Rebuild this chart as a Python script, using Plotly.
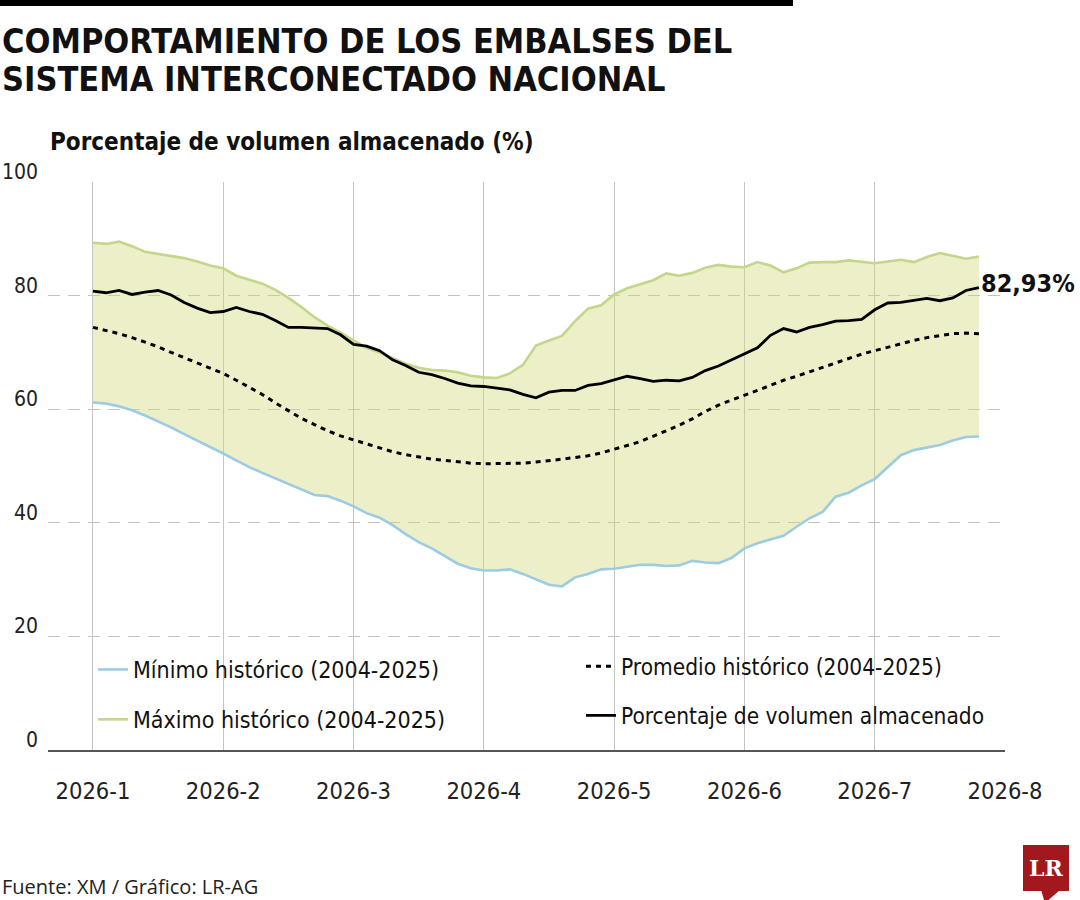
import plotly.graph_objects as go

# ---------------- data ----------------
month_labels = ["2026-1", "2026-2", "2026-3", "2026-4", "2026-5", "2026-6", "2026-7", "2026-8"]
month_pos = [0, 1, 2, 3, 4, 5, 6, 7]

# sample positions in months since 2026-1 (every 0.1 month)
x_months = [round(i * 0.1, 1) for i in range(69)]

maximo = [89.3, 89.1, 89.5, 88.7, 87.7, 87.3, 86.9, 86.6, 86.0, 85.3,
          84.8, 83.5, 82.8, 82.1, 81.0, 79.6, 78.0, 76.2, 74.7, 73.5,
          72.1, 70.8, 70.0, 69.0, 68.0, 67.3, 66.9, 66.8, 66.5, 65.9,
          65.6, 65.5, 66.3, 67.8, 71.2, 72.1, 72.9, 75.5, 77.7, 78.3,
          80.2, 81.3, 82.0, 82.7, 83.9, 83.5, 84.0, 84.9, 85.4, 85.1,
          85.0, 85.9, 85.3, 84.1, 84.8, 85.8, 85.9, 85.9, 86.2, 85.9,
          85.7, 86.0, 86.3, 85.9, 86.8, 87.5, 87.0, 86.5, 86.9]

minimo = [61.2, 61.0, 60.5, 59.8, 58.9, 57.9, 56.8, 55.6, 54.5, 53.3,
          52.2, 51.0, 49.8, 48.8, 47.8, 46.8, 45.8, 44.9, 44.7, 43.9,
          42.9, 41.7, 40.9, 39.6, 38.0, 36.6, 35.5, 34.1, 32.8, 32.0,
          31.6, 31.6, 31.8, 31.0, 30.0, 29.1, 28.8, 30.4, 31.0, 31.8,
          31.9, 32.3, 32.6, 32.6, 32.4, 32.5, 33.3, 33.0, 32.9, 33.8,
          35.5, 36.4, 37.0, 37.7, 39.3, 40.8, 41.9, 44.6, 45.3, 46.6,
          47.7, 49.8, 51.9, 52.8, 53.3, 53.7, 54.5, 55.1, 55.2]

promedio = [74.4, 73.9, 73.3, 72.6, 71.8, 71.0, 70.0, 69.1, 68.2, 67.3,
            66.3, 65.1, 63.9, 62.6, 61.1, 59.7, 58.4, 57.3, 56.2, 55.3,
            54.6, 53.9, 53.1, 52.5, 52.0, 51.6, 51.2, 51.0, 50.7, 50.5,
            50.4, 50.4, 50.4, 50.5, 50.7, 50.9, 51.2, 51.5, 51.8, 52.3,
            52.9, 53.6, 54.3, 55.2, 56.2, 57.2, 58.3, 59.6, 60.7, 61.6,
            62.4, 63.3, 64.2, 65.1, 65.8, 66.6, 67.4, 68.1, 69.0, 69.7,
            70.3, 70.9, 71.6, 72.1, 72.6, 73.0, 73.3, 73.4, 73.3]

actual = [80.8, 80.5, 80.9, 80.2, 80.6, 80.9, 80.1, 78.8, 77.8, 77.0,
          77.2, 77.9, 77.2, 76.7, 75.6, 74.4, 74.4, 74.3, 74.2, 73.1,
          71.4, 71.1, 70.3, 68.7, 67.7, 66.5, 66.1, 65.4, 64.6, 64.1,
          64.0, 63.7, 63.4, 62.6, 62.0, 63.0, 63.3, 63.3, 64.2, 64.5,
          65.1, 65.8, 65.4, 64.9, 65.1, 65.0, 65.6, 66.8, 67.6, 68.7,
          69.8, 70.8, 73.0, 74.2, 73.6, 74.4, 74.9, 75.5, 75.6, 75.8,
          77.5, 78.7, 78.8, 79.2, 79.5, 79.1, 79.6, 80.9, 81.4]

y_ticks = [0, 20, 40, 60, 80, 100]
ultimo_label = "82,93%"

title_line1 = "COMPORTAMIENTO DE LOS EMBALSES DEL"
title_line2 = "SISTEMA INTERCONECTADO NACIONAL"
subtitle_text = "Porcentaje de volumen almacenado (%)"
source_text = "Fuente: XM / Gráfico: LR-AG"

name_min = "Mínimo histórico (2004-2025)"
name_max = "Máximo histórico (2004-2025)"
name_avg = "Promedio histórico (2004-2025)"
name_act = "Porcentaje de volumen almacenado"

# ---------------- layout geometry ----------------
W, H = 1080, 900
L, R, T, B = 48, 1005, 182, 750  # plot area in pixels


def px(xp):
    return (xp - L) / (R - L)


def py(yp):
    return (B - yp) / (B - T)


COND = "DejaVu Sans Condensed, Liberation Sans Narrow, Roboto, sans-serif"

C_MIN = "#9ccbe2"
C_MAX = "#c3d68a"
C_FILL = "rgba(210,216,118,0.40)"

fig = go.Figure()

# band fill
fig.add_trace(go.Scatter(x=x_months, y=minimo, mode="lines", line=dict(width=0),
                         showlegend=False, hoverinfo="skip"))
fig.add_trace(go.Scatter(x=x_months, y=maximo, mode="lines", line=dict(width=0),
                         fill="tonexty", fillcolor=C_FILL, showlegend=False, hoverinfo="skip"))

# lines
fig.add_trace(go.Scatter(x=x_months, y=minimo, mode="lines", name=name_min,
                         line=dict(color=C_MIN, width=2.6), legend="legend", legendgroup="a"))
fig.add_trace(go.Scatter(x=x_months, y=maximo, mode="lines", name=name_max,
                         line=dict(color=C_MAX, width=2.6), legend="legend", legendgroup="b"))
fig.add_trace(go.Scatter(x=x_months, y=promedio, mode="lines", name=name_avg,
                         line=dict(color="black", width=3, dash="5px,5px"),
                         legend="legend2", legendgroup="c"))
fig.add_trace(go.Scatter(x=x_months, y=actual, mode="lines", name=name_act,
                         line=dict(color="black", width=2.8), legend="legend2", legendgroup="d"))

annotations = []
# y tick labels above grid lines
for v in y_ticks:
    annotations.append(dict(x=0, xref="paper", y=v, yref="y", text=str(v), showarrow=False,
                            xanchor="right", yanchor="bottom", xshift=-8, yshift=-4,
                            font=dict(family=COND, size=21, color="#222")))
# end label
annotations.append(dict(x=x_months[-1], y=actual[-1], xref="x", yref="y", text="<b>%s</b>" % ultimo_label,
                        showarrow=False, xanchor="left", yanchor="middle", xshift=0, yshift=4,
                        font=dict(family=COND, size=25, color="#111")))
# title
annotations.append(dict(x=px(0), y=py(41), xref="paper", yref="paper", text="<b>%s</b>" % title_line1,
                        showarrow=False, xanchor="left", yanchor="middle", align="left",
                        font=dict(family=COND, size=34, color="#111")))
annotations.append(dict(x=px(0), y=py(79), xref="paper", yref="paper", text="<b>%s</b>" % title_line2,
                        showarrow=False, xanchor="left", yanchor="middle", align="left",
                        font=dict(family=COND, size=34, color="#111")))
annotations.append(dict(x=px(48), y=py(142), xref="paper", yref="paper", text="<b>%s</b>" % subtitle_text,
                        showarrow=False, xanchor="left", yanchor="middle", align="left",
                        font=dict(family=COND, size=24, color="#111")))
annotations.append(dict(x=px(0), y=py(886), xref="paper", yref="paper", text=source_text,
                        showarrow=False, xanchor="left", yanchor="middle", align="left",
                        font=dict(family="Open Sans, sans-serif", size=20, color="#222")))
# logo text
annotations.append(dict(x=px(1046), y=py(868), xref="paper", yref="paper", text="<b>LR</b>",
                        showarrow=False, xanchor="center", yanchor="middle",
                        font=dict(family="DejaVu Serif, Liberation Serif, serif", size=22, color="white")))

shapes = [
    dict(type="rect", xref="paper", yref="paper", x0=px(0), x1=px(793), y0=py(0), y1=py(6),
         fillcolor="black", line=dict(width=0)),
    dict(type="rect", xref="paper", yref="paper", x0=px(1023), x1=px(1069), y0=py(891), y1=py(845),
         fillcolor="#a3171e", line=dict(width=0)),
    dict(type="path", xref="paper", yref="paper",
         path="M %f %f L %f %f L %f %f Z" % (px(1041), py(890), px(1060), py(890), px(1045), py(903)),
         fillcolor="#a3171e", line=dict(width=0)),
]

fig.update_layout(
    width=W, height=H,
    margin=dict(l=L, r=W - R, t=T, b=H - B, pad=0),
    paper_bgcolor="white", plot_bgcolor="white",
    showlegend=True,
    annotations=annotations,
    shapes=shapes,
    legend=dict(x=px(93), y=py(648), xanchor="left", yanchor="top", orientation="v",
                bgcolor="rgba(0,0,0,0)", font=dict(family=COND, size=23, color="#111"),
                tracegroupgap=17, itemwidth=30),
    legend2=dict(x=px(581), y=py(645), xanchor="left", yanchor="top", orientation="v",
                 bgcolor="rgba(0,0,0,0)", font=dict(family=COND, size=22.5, color="#111"),
                 tracegroupgap=17, itemwidth=30),
    xaxis=dict(range=[-0.345, 7.0], tickvals=month_pos, ticktext=month_labels,
               showgrid=True, gridcolor="#c4c4c4", gridwidth=1.2,
               showline=True, linecolor="#555", linewidth=1.5,
               ticks="", ticklabelstandoff=19, zeroline=False,
               tickfont=dict(family=COND, size=23.5, color="#222"), fixedrange=True),
    yaxis=dict(range=[0, 100], tickvals=[20, 40, 60, 80, 100], showticklabels=False,
               showgrid=True, gridcolor="#c2c2c2", gridwidth=1.2, griddash="12px,8px",
               zeroline=False, showline=False, ticks="", fixedrange=True),
)

fig.write_html("out.html")
